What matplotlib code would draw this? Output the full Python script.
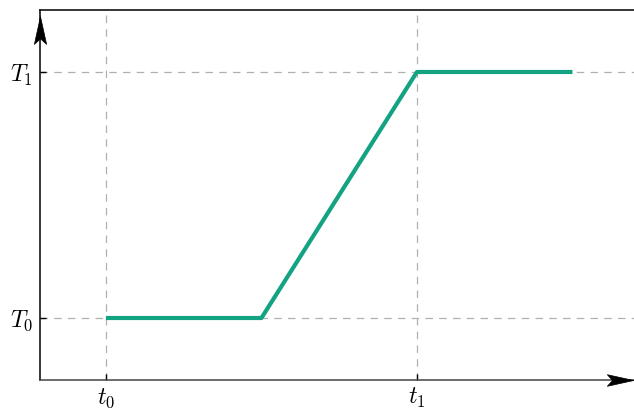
import matplotlib
matplotlib.use('Agg')
import matplotlib.pyplot as plt
from matplotlib.path import Path

plt.rcParams['mathtext.fontset'] = 'cm'

# profile: flat at T0, ramp, flat at T1
t = [0.0, 0.5, 1.0, 1.5]
temp = [0.0, 0.0, 1.0, 1.0]
xticks = [0.0, 1.0]
xlabels = [r'$t_0$', r'$t_1$']
yticks = [0.0, 1.0]
ylabels = [r'$T_0$', r'$T_1$']


def stealth(vertical=True):
    # arrow head with a notched back, tip pointing up (or right)
    pts = [(0, 0.5), (-0.22, -0.5), (0, -0.3), (0.22, -0.5), (0, 0.5)]
    if not vertical:
        pts = [(y, x) for x, y in pts]
    codes = [Path.MOVETO, Path.LINETO, Path.LINETO, Path.LINETO, Path.CLOSEPOLY]
    return Path(pts, codes)


def main():
    fig = plt.figure(figsize=(6.34, 4.12), dpi=100)
    ax = fig.add_axes([40/634, 32/412, 594/634, 370/412])

    ax.plot(t, temp, color='#13a383', linewidth=3, solid_capstyle='butt', zorder=3)

    ax.set_xlim(-0.212, 1.698)
    ax.set_ylim(-0.252, 1.252)
    ax.set_xticks(xticks)
    ax.set_xticklabels(xlabels, fontsize=17)
    ax.set_yticks(yticks)
    ax.set_yticklabels(ylabels, fontsize=17)
    ax.tick_params(direction='in', length=4, width=1)
    ax.tick_params(axis='x', pad=4)
    ax.tick_params(axis='y', pad=5)
    ax.grid(color='#b0b0b0', linestyle=(0, (6, 5)), linewidth=0.9)

    ax.spines['right'].set_visible(False)
    ax.spines['left'].set_color('black')
    ax.spines['top'].set_color('black')
    ax.spines['bottom'].set_color('#444444')
    for s in ax.spines.values():
        s.set_linewidth(1.1)

    # arrow heads on the axes
    ax.plot([0], [0.946], marker=stealth(True), markersize=20, color='black',
            markeredgewidth=0.5, transform=ax.transAxes, clip_on=False, zorder=5)
    ax.plot([0.9756], [0], marker=stealth(False), markersize=19, color='black',
            markeredgewidth=0.5, transform=ax.transAxes, clip_on=False, zorder=5)

    fig.savefig('out.png', dpi=100)


if __name__ == "__main__":
    main()
